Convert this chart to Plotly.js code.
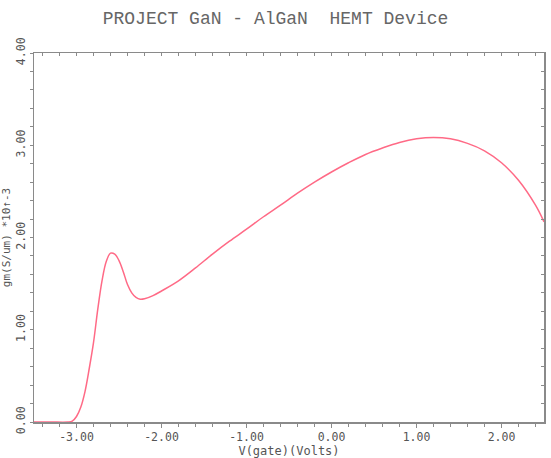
<!DOCTYPE html>
<html>
<head>
<meta charset="utf-8">
<script src="https://cdn.plot.ly/plotly-3.0.1.min.js"></script>
<style>
  html, body { margin: 0; padding: 0; background: #fff; }
  #plot { width: 551px; height: 458px; }
</style>
</head>
<body>
<div id="plot"></div>
<script>
// Gate voltage sweep (V) and transconductance gm (S/um, scaled by 1e-3)
const vGate = [-3.5, -3.3, -3.1, -3.05, -3.0, -2.95, -2.9, -2.85, -2.8, -2.75,
  -2.7, -2.65, -2.6, -2.55, -2.5, -2.45, -2.4, -2.35, -2.3, -2.25, -2.2, -2.1,
  -2.0, -1.8, -1.6, -1.4, -1.2, -1.0, -0.8, -0.6, -0.4, -0.2, 0.0, 0.2, 0.4,
  0.6, 0.8, 1.0, 1.2, 1.4, 1.6, 1.8, 2.0, 2.2, 2.4, 2.5];
const gm = [0, 0, 0, 0.01, 0.06, 0.16, 0.33, 0.58, 0.86, 1.22,
  1.53, 1.74, 1.83, 1.82, 1.75, 1.63, 1.49, 1.40, 1.35, 1.33, 1.335, 1.37,
  1.42, 1.53, 1.67, 1.82, 1.96, 2.09, 2.225, 2.35, 2.48, 2.60, 2.71, 2.81, 2.90,
  2.97, 3.03, 3.07, 3.085, 3.07, 3.02, 2.94, 2.81, 2.62, 2.35, 2.17];

const xTickVals = [-3, -2, -1, 0, 1, 2];
const xTickText = ['-3.00', '-2.00', '-1.00', '0.00', '1.00', '2.00'];
const yTickVals = [0, 1, 2, 3, 4];
const yTickText = ['0.00', '1.00', '2.00', '3.00', '4.00'];

const monoFont = 'DejaVu Sans Mono, Liberation Mono, monospace';
const thinMono = 'Liberation Mono, DejaVu Sans Mono, monospace';
const axisColor = '#8a8a8a';
const textColor = '#555';

const traces = [
  {
    x: vGate, y: gm, type: 'scatter', mode: 'lines',
    line: { color: '#ff6a86', width: 1.5, shape: 'spline', smoothing: 1 },
    hoverinfo: 'skip', showlegend: false
  },
  // carries the top/right frame axes
  { x: [], y: [], xaxis: 'x2', yaxis: 'y2', type: 'scatter', mode: 'lines', showlegend: false }
];

const layout = {
  width: 551, height: 458,
  margin: { l: 34, r: 7, t: 53, b: 36 },
  paper_bgcolor: '#fff', plot_bgcolor: '#fff',
  showlegend: false,
  title: {
    text: 'PROJECT GaN - AlGaN  HEMT Device',
    font: { family: thinMono, size: 18, color: '#666' },
    xref: 'container', x: 0.5, xanchor: 'center',
    yref: 'container', y: 1 - 18 / 458, yanchor: 'middle'
  },
  xaxis: {
    range: [-3.5, 2.5], showgrid: false, zeroline: false,
    showline: true, linecolor: axisColor, linewidth: 1.5,
    tickmode: 'array', tickvals: xTickVals, ticktext: xTickText,
    ticks: 'outside', ticklen: 4, tickwidth: 1, tickcolor: axisColor,
    minor: { dtick: 0.2, tick0: 0, ticks: 'outside', ticklen: 3, tickcolor: axisColor, showgrid: false },
    tickfont: { family: monoFont, size: 11.5, color: textColor },
    title: { text: 'V(gate)(Volts)', font: { family: monoFont, size: 12, color: textColor }, standoff: 1 }
  },
  yaxis: {
    range: [0, 4], showgrid: false, zeroline: false,
    showline: true, linecolor: axisColor, linewidth: 1.5,
    tickmode: 'array', tickvals: yTickVals, ticktext: yTickText, tickangle: -90,
    ticks: 'outside', ticklen: 3, tickwidth: 1, tickcolor: axisColor,
    minor: { dtick: 0.2, tick0: 0, ticks: 'outside', ticklen: 3, tickcolor: axisColor, showgrid: false },
    tickfont: { family: monoFont, size: 11.5, color: textColor },
    title: { text: 'gm(S/um) *10\u2191-3', font: { family: monoFont, size: 11, color: textColor }, standoff: 3 }
  },
  xaxis2: {
    overlaying: 'x', side: 'top', range: [-3.5, 2.5],
    showgrid: false, zeroline: false, showticklabels: false,
    showline: true, linecolor: axisColor, linewidth: 1.5,
    tickmode: 'linear', tick0: 0, dtick: 0.2,
    ticks: 'inside', ticklen: 3, tickcolor: axisColor
  },
  yaxis2: {
    overlaying: 'y', side: 'right', range: [0, 4],
    showgrid: false, zeroline: false, showticklabels: false,
    showline: true, linecolor: axisColor, linewidth: 1.5,
    tickmode: 'linear', tick0: 0, dtick: 0.2,
    ticks: 'inside', ticklen: 3, tickcolor: axisColor
  }
};

Plotly.newPlot('plot', traces, layout, { displayModeBar: false, staticPlot: true });
</script>
</body>
</html>
